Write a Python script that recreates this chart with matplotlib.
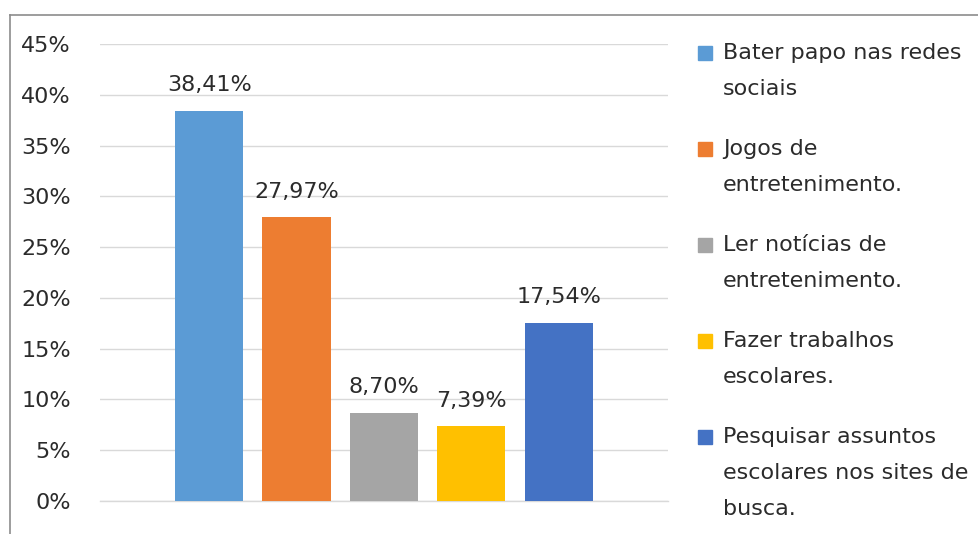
import matplotlib

matplotlib.use("Agg")

import matplotlib.pyplot as plt
from matplotlib.lines import Line2D
from matplotlib.patches import Rectangle

plt.rcParams["font.family"] = ["DejaVu Sans"]

labels = [
    "Bater papo nas redes\nsociais",
    "Jogos de\nentretenimento.",
    "Ler notícias de\nentretenimento.",
    "Fazer trabalhos\nescolares.",
    "Pesquisar assuntos\nescolares nos sites de\nbusca.",
]
values = [38.41, 27.97, 8.70, 7.39, 17.54]
colors = ["#5B9BD5", "#ED7D31", "#A5A5A5", "#FFC000", "#4472C4"]
y_ticks = [0, 5, 10, 15, 20, 25, 30, 35, 40, 45]

text_color = "#2b2b2b"
grid_color = "#d9d9d9"
font_size = 16

figure = plt.figure(figsize=(9.79, 5.34), dpi=100)
axis = figure.add_axes((0.1021, 0.0618, 0.5802, 0.8558))

positions = list(range(len(values)))
bars = axis.bar(positions, values, width=0.78, color=colors, zorder=2)

for bar, value in zip(bars, values):
    axis.annotate(
        f"{value:.2f}%".replace(".", ","),
        (bar.get_x() + bar.get_width() / 2, value),
        xytext=(0, 14),
        textcoords="offset points",
        ha="center",
        va="baseline",
        fontsize=font_size,
        color=text_color,
    )

axis.set_ylim(0, 45)
axis.set_xlim(-1.25, 5.25)
axis.set_yticks(y_ticks)
axis.set_yticklabels([f"{tick}%" for tick in y_ticks], fontsize=font_size, color=text_color)
axis.set_xticks([])
axis.tick_params(axis="y", length=0, pad=21)
axis.yaxis.grid(True, color=grid_color, linewidth=1.0, zorder=0)
# baseline gridline would otherwise be clipped at the axes edge
axis.axhline(0, color=grid_color, linewidth=1.0, clip_on=False, zorder=1)
for spine in axis.spines.values():
    spine.set_visible(False)

# legend drawn by hand so the swatch sits on the first text line
legend_x = 0.713
legend_top = 0.9007
entry_step = 0.1798
line_step = 0.0674
swatch_w = 0.0143
swatch_h = swatch_w * 979 / 534
for index, (label, color) in enumerate(zip(labels, colors)):
    y = legend_top - index * entry_step
    figure.patches.append(
        Rectangle(
            (legend_x, y - swatch_h / 2),
            swatch_w,
            swatch_h,
            transform=figure.transFigure,
            color=color,
            figure=figure,
        )
    )
    for line_index, line in enumerate(label.split("\n")):
        figure.text(
            legend_x + 0.0255,
            y - line_index * line_step,
            line,
            ha="left",
            va="center",
            fontsize=font_size,
            color=text_color,
        )

# chart frame, partly cropped
figure.add_artist(
    Line2D([0.0102, 0.0102], [0.0, 0.972], transform=figure.transFigure, color="#8c8c8c", linewidth=1.2)
)
figure.add_artist(
    Line2D([0.0102, 1.0], [0.972, 0.972], transform=figure.transFigure, color="#8c8c8c", linewidth=1.2)
)

figure.savefig("out.png", dpi=100)
plt.close(figure)
